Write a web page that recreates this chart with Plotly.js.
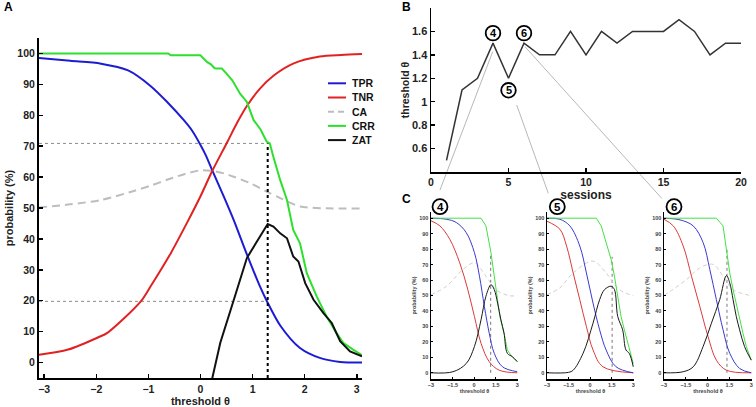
<!DOCTYPE html>
<html>
<head>
<meta charset="utf-8">
<script src="https://cdn.plot.ly/plotly-3.0.1.min.js"></script>
<style>
  html, body { margin: 0; padding: 0; background: #fff; }
  #fig { width: 756px; height: 407px; }
</style>
</head>
<body>
<div id="fig"></div>
<script>
// ---- panel A: probabilities vs threshold (one subject, all sessions) ----
const tprTheta = [-3.1, -2.5, -1.91, -1.39, -0.96, -0.64, -0.32, -0.16, 0, 0.1, 0.22, 0.45, 0.64, 0.89, 1.15, 1.27, 1.53, 1.91, 2.29, 2.68, 3.1];
const tprVal   = [98.5, 97.6, 96.7, 94.5, 89.5, 84.3, 78.4, 75.0, 70.4, 67.1, 62.4, 53.6, 46.0, 35.0, 24.3, 20.0, 12.0, 4.7, 1.5, 0.2, 0];
const tnrTheta = [-3.1, -2.54, -1.97, -1.78, -1.15, -0.96, -0.57, -0.25, 0, 0.22, 0.51, 0.7, 0.89, 1.15, 1.4, 1.79, 2.29, 2.7, 3.1];
const tnrVal   = [2.5, 4.2, 8.1, 9.7, 19.7, 24.6, 35.4, 45.5, 53.8, 61.8, 71.2, 77.5, 83.0, 88.8, 92.8, 96.8, 99, 99.5, 99.8];
const caTheta  = [-3.1, -2.5, -1.91, -1.28, -0.96, -0.63, -0.3, 0, 0.22, 0.45, 0.64, 0.96, 1.27, 1.53, 1.91, 2.42, 3.1];
const caVal    = [50.2, 51.2, 52.6, 55.5, 57.2, 59.2, 61.0, 62.2, 62.0, 61.2, 60.1, 58, 55.3, 53.2, 50.5, 49.9, 49.8];
const crrTheta = [-3.1, -0.62, -0.57, 0, 0.05, 0.13, 0.2, 0.27, 0.32, 0.41, 0.5, 0.61, 0.76, 0.89, 1.02, 1.15, 1.27, 1.33, 1.4, 1.53, 1.66, 1.75, 1.78, 1.91, 2.04, 2.23, 2.42, 2.61, 2.74, 2.93, 3.1];
const crrVal   = [100, 100, 99.4, 99.4, 98.5, 97.2, 96.5, 95.2, 95.1, 95.1, 93.5, 91.3, 87, 84.3, 78.4, 75.5, 71.5, 70.9, 66.5, 59, 52.6, 46.1, 42.9, 38.6, 28.9, 21.4, 14.9, 9.6, 6.4, 4.2, 2.4];
const zatTheta = [0.22, 0.38, 0.64, 0.89, 1.08, 1.29, 1.4, 1.53, 1.66, 1.78, 1.88, 2.01, 2.17, 2.36, 2.52, 2.68, 2.87, 3.1];
const zatVal   = [-5.5, 6.4, 20.3, 33.8, 39.1, 44.8, 44, 41.8, 40.2, 34.3, 32.7, 25.7, 20.3, 16, 12.8, 6.9, 3.6, 2];
const optTheta = 1.29, optCRR = 70.9, optTPR = 19.8;

const legendNames = ['TPR', 'TNR', 'CA', 'CRR', 'ZAT'];
const curveColors = ['#1c1cd4', '#e02222', '#bdbdbd', '#2ee02e', '#111111'];

// ---- panel B: threshold per session ----
const sessions = [1, 2, 3, 4, 5, 6, 7, 8, 9, 10, 11, 12, 13, 14, 15, 16, 17, 18, 19, 20];
const sessionTheta = [0.5, 1.1, 1.2, 1.5, 1.2, 1.5, 1.4, 1.4, 1.6, 1.4, 1.6, 1.5, 1.6, 1.6, 1.6, 1.7, 1.6, 1.4, 1.5, 1.5];
const bTickVals = [0.6, 0.8, 1, 1.2, 1.4, 1.6];
const bTickText = ['0.6', '0.8', '1', '1.2', '1.4', '1.6'];
const markedSessions = [4, 5, 6];

// ---- panel C: curves for sessions 4, 5, 6 ----
const s4BlueX  = [-3, -1.92, -1.24, -0.55, 0.02, 0.37, 0.71, 1.05, 1.4, 1.97, 3];
const s4BlueY  = [100, 99.3, 97.2, 90.7, 77.7, 62.5, 43, 25.6, 12.6, 3.9, 0.7];
const s4RedX   = [-3, -2.38, -1.69, -1.0, -0.44, 0.02, 0.48, 1.05, 1.74, 3];
const s4RedY   = [98.3, 95, 86.3, 71.1, 53.8, 36.4, 19.1, 7.2, 1.7, 0];
const s4CaX    = [-3, -1.92, -0.78, 0.02, 0.82, 1.51, 2.43, 3];
const s4CaY    = [50.5, 56, 66.8, 71.1, 62.5, 53.8, 49.9, 49.9];
const s4GreenX = [-3, 0.48, 0.82, 1.17, 1.4, 1.63, 1.79, 2.08, 2.31, 2.54, 3];
const s4GreenY = [100, 100, 95, 77.7, 62.5, 47.3, 36.4, 25.6, 14.8, 11.5, 7.2];
const s4BlackX = [-3, -1.47, -0.55, 0.02, 0.48, 0.82, 1.17, 1.4, 1.63, 1.86, 2.08, 2.31, 2.66, 3];
const s4BlackY = [0, 0.7, 6, 17, 34.3, 49.5, 57, 53.8, 45.1, 34.3, 25.6, 12.6, 10.4, 7.2];
const s4Opt = [1.15, 77];

const s5BlueX  = [-3, -2.1, -1.41, -0.72, -0.26, 0.2, 0.66, 1.11, 1.8, 3];
const s5BlueY  = [100, 99.3, 95, 82, 64.6, 45.1, 27.8, 14.8, 3.9, 0];
const s5RedX   = [-3, -2.1, -1.64, -1.18, -0.72, -0.26, 0.2, 0.89, 3];
const s5RedY   = [98, 92.8, 82, 64.6, 47.3, 29.9, 14.8, 3.9, 0];
const s5CaX    = [-3, -2.1, -1.18, 0.2, 1.11, 2.03, 3];
const s5CaY    = [50.5, 55, 64.6, 72.2, 64.6, 53.8, 49.9];
const s5GreenX = [-3, 0.43, 0.77, 1.11, 1.46, 1.69, 1.92, 2.15, 2.38, 2.72, 3];
const s5GreenY = [100, 100, 95, 84, 73.3, 62.5, 49.5, 36.4, 27.8, 14.8, 6];
const s5BlackX = [-3, -1.5, -1.18, -0.49, 0.2, 0.66, 1.0, 1.46, 1.69, 1.92, 2.26, 2.49, 2.72, 3];
const s5BlackY = [0, 0.3, 1.7, 12.6, 32.1, 47.3, 53.8, 56, 53.8, 36.4, 27.8, 14.8, 12.6, 3.9];
const s5Opt = [1.53, 75];

const s6BlueX  = [-3, -1.9, -0.99, -0.31, 0.15, 0.6, 1.06, 1.52, 2.2, 3];
const s6BlueY  = [100, 98.9, 95, 84.2, 66.8, 47.3, 27.8, 12.6, 2.8, 0];
const s6RedX   = [-3, -2.36, -1.68, -1.11, -0.54, 0.03, 0.6, 1.29, 3];
const s6RedY   = [99.3, 95, 82, 62.5, 43, 23.4, 8.2, 1.7, 0];
const s6CaX    = [-3, -1.45, -0.54, 0.38, 1.06, 1.75, 3];
const s6CaY    = [49.9, 60.3, 67.9, 70.1, 62.5, 53.8, 49.9];
const s6GreenX = [-3, 0.6, 1.06, 1.29, 1.52, 1.75, 2.09, 2.43, 2.66, 3];
const s6GreenY = [100, 100, 95, 79.8, 64.6, 53.8, 38.6, 25.6, 16.9, 8.2];
const s6BlackX = [-3, -1.68, -0.99, -0.31, 0.26, 0.83, 1.29, 1.52, 1.75, 1.97, 2.2, 2.54, 3];
const s6BlackY = [0, 0.7, 3.9, 17, 32.1, 47.3, 62.9, 58.1, 47.3, 36.4, 27.8, 16.9, 8.2];
const s6Opt = [1.33, 80];

const W = 756, H = 407;
const FONT = 'Liberation Sans, Arial, sans-serif';
const px = v => v / W;
const py = v => 1 - v / H;

let data = [];

// panel A curves
function lineA(x, y, color, dash, shape, width) {
  data.push({x: x, y: y, xaxis: 'x', yaxis: 'y', mode: 'lines', type: 'scatter',
    line: {color: color, width: width || 2, dash: dash || 'solid', shape: shape || 'linear', smoothing: 0.8},
    hoverinfo: 'skip', showlegend: false});
}
lineA([-3.1, optTheta], [optCRR, optCRR], '#8a8a8a', 'dot', null, 1);
lineA([-3.1, optTheta], [optTPR, optTPR], '#8a8a8a', 'dot', null, 1);
lineA(caTheta, caVal, curveColors[2], '8px,5px', 'spline');
lineA(tprTheta, tprVal, curveColors[0], null, 'spline');
lineA(tnrTheta, tnrVal, curveColors[1], null, 'spline');
lineA(crrTheta, crrVal, curveColors[3]);
lineA(zatTheta, zatVal, curveColors[4]);
lineA([optTheta, optTheta], [-5, optCRR], '#000', 'dot');

// panel B
data.push({x: sessions, y: sessionTheta, xaxis: 'x2', yaxis: 'y2', mode: 'lines', type: 'scatter',
  line: {color: '#333', width: 1.5}, hoverinfo: 'skip', showlegend: false});

// panel C
const cSets = [
  {ax: '3', sets: [[s4CaX, s4CaY], [s4RedX, s4RedY], [s4BlueX, s4BlueY], [s4GreenX, s4GreenY], [s4BlackX, s4BlackY]], opt: s4Opt},
  {ax: '4', sets: [[s5CaX, s5CaY], [s5RedX, s5RedY], [s5BlueX, s5BlueY], [s5GreenX, s5GreenY], [s5BlackX, s5BlackY]], opt: s5Opt},
  {ax: '5', sets: [[s6CaX, s6CaY], [s6RedX, s6RedY], [s6BlueX, s6BlueY], [s6GreenX, s6GreenY], [s6BlackX, s6BlackY]], opt: s6Opt}
];
const cColors = ['#cfcfcf', '#dd3a3a', '#3a3ad0', '#44e044', '#1a1a1a'];
cSets.forEach(c => {
  data.push({x: [c.opt[0], c.opt[0]], y: [0, c.opt[1]], xaxis: 'x' + c.ax, yaxis: 'y' + c.ax,
    mode: 'lines', line: {color: '#777', width: 1, dash: 'dot'}, hoverinfo: 'skip', showlegend: false});
  c.sets.forEach((s, i) => {
    data.push({x: s[0], y: s[1], xaxis: 'x' + c.ax, yaxis: 'y' + c.ax, mode: 'lines',
      line: {color: cColors[i], width: 1, dash: i === 0 ? '4px,3px' : 'solid', shape: i === 3 ? 'linear' : 'spline'},
      hoverinfo: 'skip', showlegend: false});
  });
});

function axisBase(size, color) {
  return {showgrid: false, zeroline: false, showline: true, linecolor: '#000', linewidth: 2,
    ticks: 'inside', ticklen: 4, tickwidth: 1.5, tickcolor: '#000', mirror: false,
    tickfont: {family: FONT, size: size, color: color || '#222', weight: 'bold'}};
}

let layout = {
  width: W, height: H, margin: {l: 0, r: 0, t: 0, b: 0},
  paper_bgcolor: '#fff', plot_bgcolor: '#fff', showlegend: false,
  xaxis: Object.assign(axisBase(10.5), {domain: [px(39), px(362)], range: [-3.1, 3.1],
    tickvals: [-3, -2, -1, 0, 1, 2, 3], anchor: 'y',
    title: {text: 'threshold θ', font: {family: FONT, size: 11, color: '#222', weight: 'bold'}, standoff: 0}}),
  yaxis: Object.assign(axisBase(10.5), {domain: [py(378), py(38)], range: [-5, 105],
    tickvals: [0, 10, 20, 30, 40, 50, 60, 70, 80, 90, 100], anchor: 'x',
    title: {text: 'probability (%)', font: {family: FONT, size: 11, color: '#222', weight: 'bold'}, standoff: 2}}),
  xaxis2: Object.assign(axisBase(10.5), {domain: [px(431), px(741)], range: [0, 20],
    tickvals: [0, 5, 10, 15, 20], anchor: 'y2', linewidth: 1.5,
    title: {text: 'sessions', font: {family: FONT, size: 12, color: '#222', weight: 'bold'}, standoff: 0}}),
  yaxis2: Object.assign(axisBase(11), {domain: [py(172), py(8)], range: [0.4, 1.8],
    tickvals: bTickVals, ticktext: bTickText, anchor: 'x2', linewidth: 1.5,
    title: {text: 'threshold θ', font: {family: FONT, size: 10.5, color: '#222', weight: 'bold'}, standoff: 0}}),
  shapes: [], annotations: []
};

const cDomains = [[431, 518], [547, 634], [664, 752]];
cDomains.forEach((d, i) => {
  const n = String(i + 3);
  layout['xaxis' + n] = Object.assign(axisBase(5.5, '#444'), {domain: [px(d[0]), px(d[1])], range: [-3, 3.05],
    tickvals: [-3, -1.5, 0, 1.5, 3], anchor: 'y' + n, linewidth: 1.5, ticklen: 2, tickwidth: 1,
    title: {text: 'threshold θ', font: {family: FONT, size: 5.5, color: '#444', weight: 'bold'}, standoff: 1}});
  layout['yaxis' + n] = Object.assign(axisBase(5.5, '#444'), {domain: [py(379), py(212)], range: [-4, 104],
    tickvals: [0, 10, 20, 30, 40, 50, 60, 70, 80, 90, 100], anchor: 'x' + n, linewidth: 1.5, ticklen: 2, tickwidth: 1,
    title: {text: 'probability (%)', font: {family: FONT, size: 5.5, color: '#444', weight: 'bold'}, standoff: 2}});
});

// manual legend for panel A
legendNames.forEach((name, i) => {
  const yy = 83.3 + 14.2 * i;
  layout.shapes.push({type: 'line', xref: 'paper', yref: 'paper', x0: px(328), x1: px(346), y0: py(yy), y1: py(yy),
    line: {color: curveColors[i], width: 2, dash: i === 2 ? '6px,4px' : 'solid'}});
  layout.annotations.push({xref: 'paper', yref: 'paper', x: px(349.5), y: py(yy), xanchor: 'left', yanchor: 'middle',
    text: name, showarrow: false, font: {family: FONT, size: 10.5, color: '#111', weight: 'bold'}});
});

// circled session numbers in B
const circleShift = {4: 10, 5: -12, 6: 10};
markedSessions.forEach(s => {
  const yv = sessionTheta[s - 1], dy = circleShift[s];
  layout.shapes.push({type: 'circle', xref: 'x2', yref: 'y2', xsizemode: 'pixel', ysizemode: 'pixel',
    xanchor: s, yanchor: yv, x0: -7.3, x1: 7.3, y0: dy - 7.3, y1: dy + 7.3,
    line: {color: '#000', width: 1.8}, fillcolor: '#fff'});
  layout.annotations.push({xref: 'x2', yref: 'y2', x: s, y: yv, yshift: dy, text: String(s), showarrow: false,
    font: {family: FONT, size: 11, color: '#000', weight: 'bold'}});
});

// circled labels above C panels and connector lines from B
const cCircles = [[440, 206.7], [557.3, 206.7], [674, 206.7]];
const connectors = [[492.7, 51.7, 440, 190], [516.7, 105, 548.3, 193.3], [525, 46.7, 661.7, 198.3]];
connectors.forEach(c => {
  layout.shapes.push({type: 'line', xref: 'paper', yref: 'paper', x0: px(c[0]), y0: py(c[1]), x1: px(c[2]), y1: py(c[3]),
    line: {color: '#b8b8b8', width: 1}, layer: 'below'});
});
cCircles.forEach((c, i) => {
  layout.shapes.push({type: 'circle', xref: 'paper', yref: 'paper', x0: px(c[0] - 7.5), x1: px(c[0] + 7.5),
    y0: py(c[1] + 7.5), y1: py(c[1] - 7.5), line: {color: '#000', width: 1.8}, fillcolor: '#fff'});
  layout.annotations.push({xref: 'paper', yref: 'paper', x: px(c[0]), y: py(c[1]), text: String(markedSessions[i]),
    showarrow: false, xanchor: 'center', yanchor: 'middle', font: {family: FONT, size: 11.5, color: '#000', weight: 'bold'}});
});

// panel letters
[['A', 8, 7], ['B', 406, 7], ['C', 406, 199]].forEach(l => {
  layout.annotations.push({xref: 'paper', yref: 'paper', x: px(l[1]), y: py(l[2]), text: l[0], showarrow: false,
    xanchor: 'center', yanchor: 'middle', font: {family: FONT, size: 12, color: '#000', weight: 'bold'}});
});

Plotly.newPlot('fig', data, layout, {staticPlot: true, displayModeBar: false});
</script>
</body>
</html>
